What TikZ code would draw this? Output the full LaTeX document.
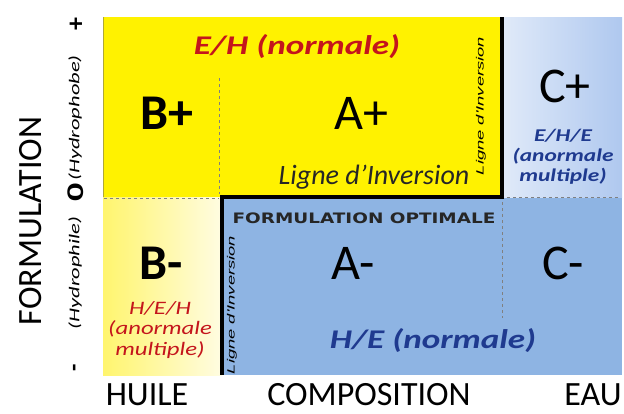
\documentclass[tikz,border=0pt]{standalone}
\usepackage{fontspec}
\usepackage{xcolor}
\setmainfont{Carlito}
\newfontfamily\widefont[FakeStretch=1.3]{Carlito}
\newfontfamily\longfont[FakeStretch=1.5]{Carlito}
\newfontfamily\thinfont[FakeStretch=1.75]{Liberation Sans}
\newfontfamily\optfont[FakeStretch=1.28]{DejaVu Sans}
\definecolor{softblue}{HTML}{8EB4E3}
\definecolor{iceblue}{HTML}{E0EAF9}
\definecolor{skyblue}{HTML}{AFC8EF}
\definecolor{softyellow}{HTML}{FFF56E}
\definecolor{paleyellow}{HTML}{FFFCE2}
\definecolor{darkred}{HTML}{C4151C}
\definecolor{navy}{HTML}{1F3A8F}
\usetikzlibrary{positioning}

\begin{document}
\begin{tikzpicture}[x=1pt, y=-1pt,
        every node/.style={inner sep=0pt, align=center},
        letter/.style={font=\fontsize{50}{50}\selectfont},
        regime/.style={font=\widefont\bfseries\itshape\fontsize{27}{30}\selectfont},
        smallregime/.style={font=\widefont\bfseries\itshape\fontsize{18}{20}\selectfont},
        axis/.style={font=\fontsize{34}{34}\selectfont},
        sidelabel/.style={font=\longfont\itshape\fontsize{15}{15}\selectfont, rotate=90},
        inversion/.style={font=\thinfont\itshape\fontsize{10.5}{10.5}\selectfont, rotate=90},
        dashgrey/.style={draw=gray, dashed, line width=0.9pt}
    ]
    \useasboundingbox (0,0) rectangle (624,413);

    % Regions
    \fill[yellow] (103,17) rectangle (502,197);
    \shade[left color=softyellow, right color=paleyellow] (103,197) rectangle (222,375);
    \fill[softblue] (222,197) rectangle (622,375);
    \shade[left color=iceblue, right color=skyblue] (502,17) rectangle (622,197);
    \draw[olive!70, line width=1pt] (103.5,17) -- (103.5,197);

    % Lines
    \draw[dashgrey] (219,78) -- (219,194);
    \draw[dashgrey] (104,198) -- (219,198);
    \draw[dashgrey] (507,197) -- (618,197);
    \draw[dashgrey] (502,202) -- (502,318);
    \draw[line width=4pt] (502,17) -- (502,197) -- (222,197) -- (222,375);

    % Nodes
    \node[regime, text=darkred] (eh) at (297,47) {E/H (normale)};
    \node[letter, font=\bfseries\fontsize{50}{50}\selectfont] (bplus) at (167,113) {B+};
    \node[letter] (aplus) at (361,113) {A+};
    \node[letter] (cplus) at (565,86) {C+};
    \node[smallregime, text=navy] (ehe) at (563,157) {E/H/E\\(anormale\\multiple)};
    \node[font=\itshape\fontsize{28}{28}\selectfont, text=black!85] (ligneH) at (374,177) {Ligne d'Inversion};
    \node[inversion] (ligneV1) at (481,106) {Ligne d'Inversion};
    \node[font=\optfont\bfseries\fontsize{14.4}{15}\selectfont, text=black!85] (optimale) at (364,218) {FORMULATION OPTIMALE};
    \node[letter] (aminus) at (353,263) {A-};
    \node[letter] (cminus) at (563,263) {C-};
    \node[letter, font=\bfseries\fontsize{50}{50}\selectfont] (bminus) at (161,263) {B-};
    \node[smallregime, font=\widefont\itshape\fontsize{19}{20.5}\selectfont, text=darkred] (heh) at (160,330) {H/E/H\\(anormale\\multiple)};
    \node[regime, text=navy] (he) at (433,341) {H/E (normale)};
    \node[inversion] (ligneV2) at (232,305) {Ligne d'Inversion};

    % Axes
    \node[axis] (huile) at (147,395) {HUILE};
    \node[axis] (composition) at (369,395) {COMPOSITION};
    \node[axis] (eau) at (593,395) {EAU};
    \node[axis, rotate=90] (formulation) at (31,221) {FORMULATION};
    \node[font=\bfseries\fontsize{26}{26}\selectfont, rotate=90] (plus) at (77,24) {+};
    \node[font=\longfont\bfseries\fontsize{24}{24}\selectfont, rotate=90] (zero) at (76,192) {0};
    \node[font=\bfseries\fontsize{24}{24}\selectfont, rotate=90] (minus) at (77,368) {-};
    \node[sidelabel] (hydrophobe) at (75,118) {(Hydrophobe)};
    \node[sidelabel] (hydrophile) at (75,273) {(Hydrophile)};
\end{tikzpicture}
\end{document}
